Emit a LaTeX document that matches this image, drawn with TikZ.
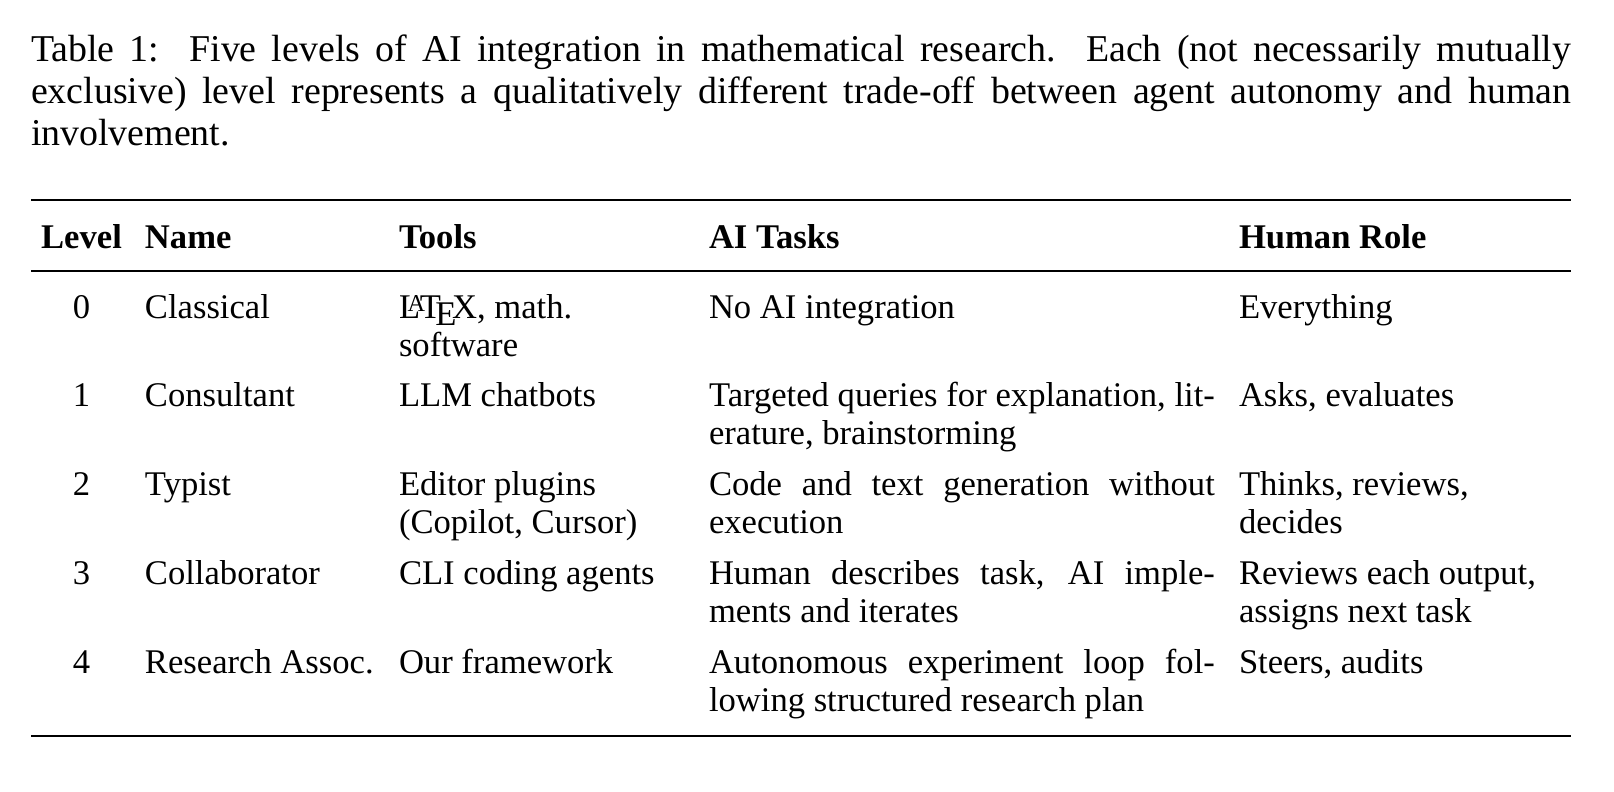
\documentclass[tikz,border=0pt]{standalone}
\usepackage{fontspec}
\setmainfont{Liberation Serif}
\newlength\ajw \setlength\ajw{146.2pt}
\newlength\capw \setlength\capw{445.1pt}
\newcommand\jline[2]{\makebox[#1][s]{#2}}
\begin{document}
\begin{tikzpicture}[x=0.289pt,y=-0.289pt,
  txt/.style={inner sep=0pt,outer sep=0pt,anchor=base west,font=\fontsize{10pt}{12pt}\selectfont},
  captxt/.style={txt,font=\fontsize{10.95pt}{13pt}\selectfont},
  ctr/.style={txt,anchor=base},
  hd/.style={txt,font=\fontsize{10pt}{12pt}\selectfont\bfseries},
  hdc/.style={hd,anchor=base},
  heavyrule/.style={line width=0.8pt},
  lightrule/.style={line width=0.5pt}]
\useasboundingbox[fill=white] (0,0) rectangle (1614,791);
% caption
\node[captxt] (cap1) at (31,61) {\jline{\capw}{Table 1:\ \ Five levels of AI integration in mathematical research.\ \ Each (not necessarily mutually}};
\node[captxt] (cap2) at (31,103) {\jline{\capw}{exclusive) level represents a qualitatively different trade-off between agent autonomy and human}};
\node[captxt] (cap3) at (31,145) {involvement.};
% rules
\coordinate (tl) at (31,200); \coordinate (tr) at (1571,200);
\coordinate (ml) at (31,271); \coordinate (mr) at (1571,271);
\coordinate (bl) at (31,736); \coordinate (br) at (1571,736);
\draw[heavyrule] (tl) -- (tr);
\draw[lightrule] (ml) -- (mr);
\draw[heavyrule] (bl) -- (br);
% header
\node[hdc] (hLevel) at (81.5,248) {Level};
\node[hd] (hName) at (145,248) {Name};
\node[hd] (hTools) at (399,248) {Tools};
\node[hd] (hTasks) at (709,248) {AI Tasks};
\node[hd] (hRole) at (1239,248) {Human Role};
% row 0
\node[ctr] (l0) at (81.5,318) {0};
\node[txt] (n0) at (145,318) {Classical};
\node[txt] (t0a) at (399,318) {\LaTeX, math.};
\node[txt] (t0b) at (399,356) {software};
\node[txt] (a0) at (709,318) {No AI integration};
\node[txt] (h0) at (1239,318) {Everything};
% row 1
\node[ctr] (l1) at (81.5,406) {1};
\node[txt] (n1) at (145,406) {Consultant};
\node[txt] (t1) at (399,406) {LLM chatbots};
\node[txt] (a1a) at (709,406) {\jline{\ajw}{Targeted queries for explanation, lit-}};
\node[txt] (a1b) at (709,444) {erature, brainstorming};
\node[txt] (h1) at (1239,406) {Asks, evaluates};
% row 2
\node[ctr] (l2) at (81.5,495) {2};
\node[txt] (n2) at (145,495) {Typist};
\node[txt] (t2a) at (399,495) {Editor plugins};
\node[txt] (t2b) at (399,533) {(Copilot, Cursor)};
\node[txt] (a2a) at (709,495) {\jline{\ajw}{Code and text generation without}};
\node[txt] (a2b) at (709,533) {execution};
\node[txt] (h2a) at (1239,495) {Thinks, reviews,};
\node[txt] (h2b) at (1239,533) {decides};
% row 3
\node[ctr] (l3) at (81.5,584) {3};
\node[txt] (n3) at (145,584) {Collaborator};
\node[txt] (t3) at (399,584) {CLI coding agents};
\node[txt] (a3a) at (709,584) {\jline{\ajw}{Human describes task, AI imple-}};
\node[txt] (a3b) at (709,622) {ments and iterates};
\node[txt] (h3a) at (1239,584) {Reviews each output,};
\node[txt] (h3b) at (1239,622) {assigns next task};
% row 4
\node[ctr] (l4) at (81.5,673) {4};
\node[txt] (n4) at (145,673) {Research Assoc.};
\node[txt] (t4) at (399,673) {Our framework};
\node[txt] (a4a) at (709,673) {\jline{\ajw}{Autonomous experiment loop fol-}};
\node[txt] (a4b) at (709,711) {lowing structured research plan};
\node[txt] (h4) at (1239,673) {Steers, audits};
\end{tikzpicture}
\end{document}
